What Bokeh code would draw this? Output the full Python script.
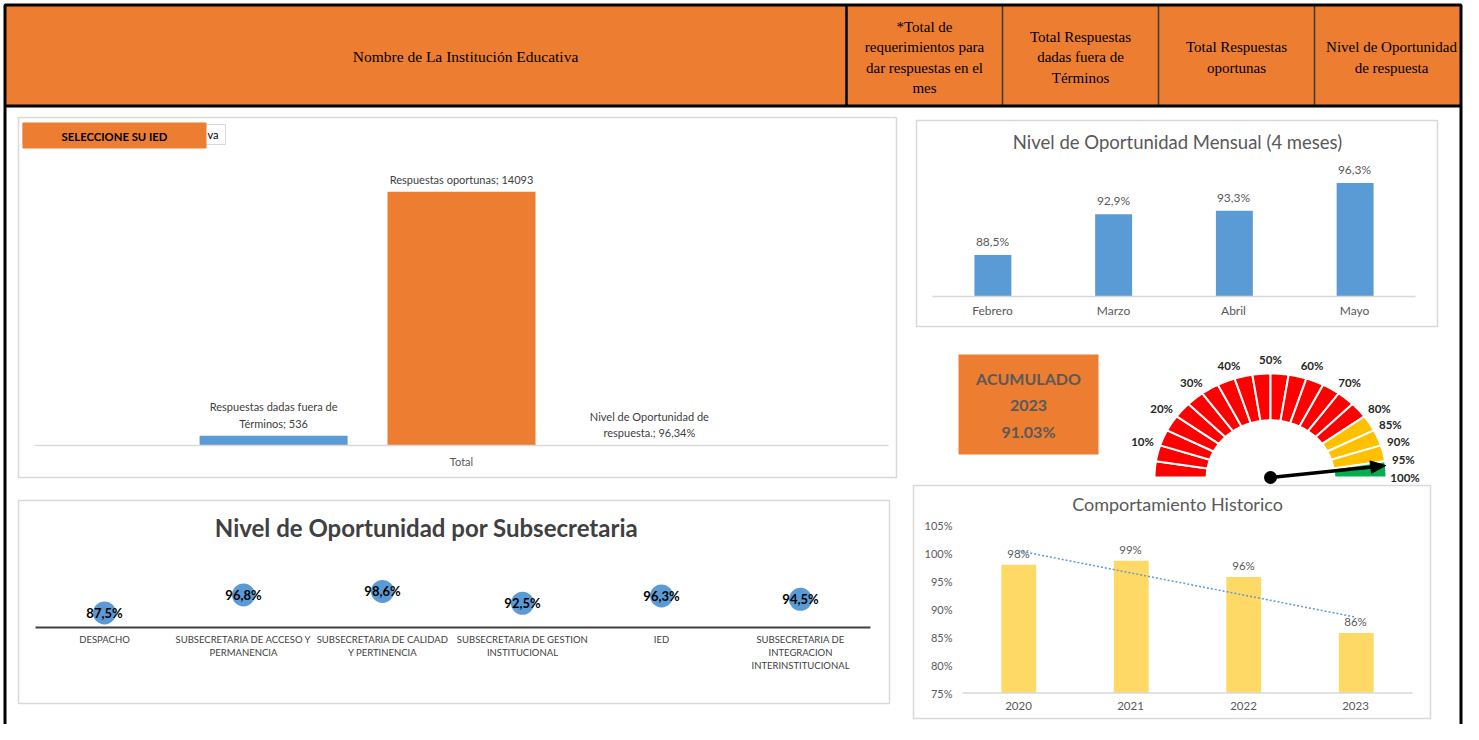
import numpy as np
from bokeh.plotting import figure
from bokeh.models import Range1d
from bokeh.core.properties import value
from bokeh.embed import file_html
from bokeh.resources import INLINE

# ---------------- data ----------------
header_title = "Nombre de La Institución Educativa"
header_cols = [
    "*Total de\nrequerimientos para\ndar respuestas en el\nmes",
    "Total Respuestas\ndadas fuera de\nTérminos",
    "Total Respuestas\noportunas",
    "Nivel de Oportunidad\nde respuesta",
]

selector_label = "SELECCIONE SU IED"
selector_text = "va"

tl_category = "Total"
tl_labels = [
    "Respuestas dadas fuera de\nTérminos; 536",
    "Respuestas oportunas; 14093",
    "Nivel de Oportunidad de\nrespuesta.; 96,34%",
]
tl_values = [536, 14093, 0.9634]

month_title = "Nivel de Oportunidad Mensual (4 meses)"
month_names = ["Febrero", "Marzo", "Abril", "Mayo"]
month_values = [0.885, 0.929, 0.933, 0.963]

sub_title = "Nivel de Oportunidad por Subsecretaria"
sub_names = [
    "DESPACHO",
    "SUBSECRETARIA DE ACCESO Y\nPERMANENCIA",
    "SUBSECRETARIA DE CALIDAD\nY PERTINENCIA",
    "SUBSECRETARIA DE GESTION\nINSTITUCIONAL",
    "IED",
    "SUBSECRETARIA DE\nINTEGRACION\nINTERINSTITUCIONAL",
]
sub_values = [0.875, 0.968, 0.986, 0.925, 0.963, 0.945]

hist_title = "Comportamiento Historico"
hist_years = ["2020", "2021", "2022", "2023"]
hist_values = [0.979, 0.986, 0.957, 0.857]
hist_ticks = [0.75, 0.80, 0.85, 0.90, 0.95, 1.00, 1.05]

acum_year = 2023
acum_value = 0.9103
needle_value = 0.9634

gauge_edges = [0, 5, 10, 15, 20, 25, 30, 35, 40, 45, 50, 55, 60, 65, 70, 75, 80, 85, 90, 95, 100]
gauge_yellow_from = 80
gauge_green_from = 95
gauge_label_values = [10, 20, 30, 40, 50, 60, 70, 80, 85, 90, 95, 100]

# ---------------- styles ----------------
ORANGE = "#ED7D31"
BLUE = "#5B9BD5"
GOLD = "#FFD966"
GRAY_TXT = "#595959"
DARK_TXT = "#404040"
PANEL = "#D9D9D9"
SANS = value("Lato")
SERIF = value("Liberation Serif")

W, H = 1463, 724
p = figure(width=W, height=H, x_range=Range1d(0, W), y_range=Range1d(H, 0),
           output_backend="svg", toolbar_location=None, min_border=0,
           x_axis_location=None, y_axis_location=None, title=None)
p.grid.visible = False
p.outline_line_color = None
p.background_fill_color = "white"
p.border_fill_color = "white"


def sub(xs, ys, xt, yt):
    return p.subplot(x_source=Range1d(*xs), y_source=Range1d(*ys),
                     x_target=Range1d(*xt), y_target=Range1d(*yt))


# ---------------- header ----------------
p.quad(left=[4], right=[1461], top=[4], bottom=[106], fill_color=ORANGE, line_color=None)
p.segment(x0=[846, 1002, 1158, 1314], y0=[4] * 4, x1=[846, 1002, 1158, 1314], y1=[106] * 4,
          line_color=["#000000", "#3a3a3a", "#3a3a3a", "#3a3a3a"], line_width=[2.5, 1.5, 1.5, 1.5])
p.segment(x0=[4], y0=[105.5], x1=[1461], y1=[105.5], line_color="black", line_width=3)
p.line(x=[4.5, 4.5, 1460.5, 1460.5], y=[H, 4.5, 4.5, H], line_color="black", line_width=3)
p.text(x=[465], y=[56], text=[header_title], text_font=SERIF, text_font_size="15.5px",
       text_align="center", text_baseline="middle", text_color="black")
p.text(x=[924, 1080, 1236, 1391], y=[57, 57, 57, 57], text=header_cols, text_font=SERIF,
       text_font_size="15px", text_align="center", text_baseline="middle", text_color="black",
       text_line_height=1.27)

# ---------------- panels ----------------
p.quad(left=[18, 916, 18, 913], right=[896, 1437, 889, 1430], top=[117, 120, 500, 485],
       bottom=[477, 326, 703, 718], fill_color=None, line_color=PANEL, line_width=1.5)

# ---------------- top-left bar chart ----------------
s1 = sub((0, 1), (0, 16000), (34, 888), (445, 157))
tl_x = np.array([0.5 - 0.22, 0.5, 0.5 + 0.22])
tl_w = 0.1733
s1.quad(left=tl_x - tl_w / 2, right=tl_x + tl_w / 2, bottom=[0, 0, 0], top=tl_values,
        fill_color=[BLUE, ORANGE, "#A5A5A5"], line_color=None)
s1.segment(x0=[0], y0=[0], x1=[1], y1=[0], line_color=PANEL, line_width=1.5)
s1.text(x=tl_x, y=tl_values, text=tl_labels, text_font=SANS, text_font_size="11px",
        text_color=DARK_TXT, text_align="center", text_baseline="bottom", y_offset=-6,
        text_line_height=1.3)
s1.text(x=[0.5], y=[0], text=[tl_category], text_font=SANS, text_font_size="11px",
        text_color=GRAY_TXT, text_align="center", text_baseline="middle", y_offset=16)

# selector
p.quad(left=[22], right=[225], top=[124], bottom=[144], fill_color="white", line_color=PANEL, line_width=1)
p.text(x=[207], y=[134], text=[selector_text], text_font=SANS, text_font_size="11px",
       text_color="black", text_align="left", text_baseline="middle")
p.quad(left=[22], right=[206], top=[122], bottom=[148], fill_color=ORANGE, line_color=None)
p.text(x=[114], y=[135.5], text=[selector_label], text_font=SANS, text_font_size="11.3px",
       text_font_style="bold", text_color="black", text_align="center", text_baseline="middle")

# ---------------- monthly chart ----------------
s2 = sub((-0.5, 3.5), (0.84, 0.98), (932, 1415), (296, 166.8))
mx = np.arange(len(month_names))
mw = 0.306
s2.quad(left=mx - mw / 2, right=mx + mw / 2, bottom=[0.84] * 4, top=month_values,
        fill_color=BLUE, line_color=None)
s2.segment(x0=[-0.5], y0=[0.84], x1=[3.5], y1=[0.84], line_color=PANEL, line_width=1.5)
s2.text(x=mx, y=month_values, text=[f"{v * 100:.1f}%".replace(".", ",") for v in month_values],
        text_font=SANS, text_font_size="12px", text_color=GRAY_TXT, text_align="center",
        text_baseline="bottom", y_offset=-6)
s2.text(x=mx, y=[0.84] * 4, text=month_names, text_font=SANS, text_font_size="12px",
        text_color=GRAY_TXT, text_align="center", text_baseline="middle", y_offset=14)
p.text(x=[1177], y=[141], text=[month_title], text_font=SANS, text_font_size="18.5px",
       text_color=GRAY_TXT, text_align="center", text_baseline="middle")

# ---------------- accumulated box + gauge ----------------
p.quad(left=[958], right=[1098], top=[354], bottom=[454], fill_color=ORANGE, line_color=None)
p.text(x=[1028], y=[404.5], text=[f"ACUMULADO\n{acum_year}\n{acum_value * 100:.2f}%"],
       text_font=SANS, text_font_size="16px", text_font_style="bold", text_color=GRAY_TXT,
       text_align="center", text_baseline="middle", text_line_height=1.4)

s5 = sub((-1, 1), (0, 1), (1154, 1386), (477, 373))
xs_list, ys_list, cols = [], [], []
for e0, e1 in zip(gauge_edges[:-1], gauge_edges[1:]):
    a = np.linspace(np.pi * (1 - e0 / 100), np.pi * (1 - e1 / 100), 12)
    xs_list.append(np.concatenate([np.cos(a), 0.55 * np.cos(a[::-1])]))
    ys_list.append(np.concatenate([np.sin(a), 0.55 * np.sin(a[::-1])]))
    cols.append("#00B050" if e0 >= gauge_green_from else ("#FFC000" if e0 >= gauge_yellow_from else "#FF0000"))
s5.patches(xs=xs_list, ys=ys_list, fill_color=cols, line_color="white", line_width=2)
la = np.pi * (1 - np.array(gauge_label_values) / 100)
s5.text(x=1.16 * np.cos(la), y=1.13 * np.sin(la), text=[f"{v}%" for v in gauge_label_values],
        text_font=SANS, text_font_size="11.5px", text_font_style="bold", text_color="#262626",
        text_align="center", text_baseline="middle")
th = np.pi * (1 - needle_value)
ux, uy = np.cos(th), np.sin(th)
s5.segment(x0=[0], y0=[0], x1=[0.88 * ux], y1=[0.88 * uy], line_color="black", line_width=3.5)
s5.patch(x=[1.0 * ux, 0.87 * ux - 0.06 * uy, 0.87 * ux + 0.06 * uy],
         y=[1.0 * uy, 0.87 * uy + 0.06 * ux, 0.87 * uy - 0.06 * ux], fill_color="black", line_color="black")
s5.scatter(x=[0], y=[0], size=13, fill_color="black", line_color=None)

# ---------------- subsecretaria chart ----------------
s3 = sub((-0.5, 5.5), (0.80, 1.00), (35, 870), (627, 588.2))
sx = np.arange(len(sub_names))
s3.segment(x0=[-0.5], y0=[0.80], x1=[5.5], y1=[0.80], line_color=DARK_TXT, line_width=2)
s3.scatter(x=sx, y=sub_values, size=23, fill_color=BLUE, line_color=None)
s3.text(x=sx, y=sub_values, text=[f"{v * 100:.1f}%".replace(".", ",") for v in sub_values],
        text_font=SANS, text_font_size="13px", text_font_style="bold", text_color="black",
        text_align="center", text_baseline="middle")
s3.text(x=sx, y=[0.80] * len(sx), text=sub_names, text_font=SANS, text_font_size="9.5px",
        text_color=DARK_TXT, text_align="center", text_baseline="top", y_offset=6,
        text_line_height=1.2)
p.text(x=[426], y=[527], text=[sub_title], text_font=SANS, text_font_size="24px",
       text_font_style="bold", text_color=DARK_TXT, text_align="center", text_baseline="middle")

# ---------------- historic chart ----------------
s4 = sub((-0.5, 3.5), (0.75, 1.05), (962, 1412), (692.5, 524.5))
hx = np.arange(len(hist_years))
hw = 0.31
s4.quad(left=hx - hw / 2, right=hx + hw / 2, bottom=[0.75] * 4, top=hist_values,
        fill_color=GOLD, line_color=None)
s4.segment(x0=[-0.5], y0=[0.75], x1=[3.5], y1=[0.75], line_color=PANEL, line_width=1.5)
s4.text(x=[-0.5] * len(hist_ticks), y=hist_ticks, text=[f"{round(t * 100)}%" for t in hist_ticks],
        text_font=SANS, text_font_size="11px", text_color=GRAY_TXT, text_align="right",
        text_baseline="middle", x_offset=-10)
s4.text(x=hx, y=[0.75] * 4, text=hist_years, text_font=SANS, text_font_size="11.5px",
        text_color=GRAY_TXT, text_align="center", text_baseline="middle", y_offset=13)
s4.text(x=hx, y=hist_values, text=[f"{round(v * 100)}%" for v in hist_values], text_font=SANS,
        text_font_size="11.5px", text_color=GRAY_TXT, text_align="center", text_baseline="bottom",
        y_offset=-5)
coef = np.polyfit(hx, hist_values, 1)
s4.line(x=hx, y=np.polyval(coef, hx), line_color=BLUE, line_width=1.5, line_dash="2 2")
p.text(x=[1177], y=[503], text=[hist_title], text_font=SANS, text_font_size="18px",
       text_color=GRAY_TXT, text_align="center", text_baseline="middle")

open("out.html", "w").write(file_html(p, INLINE))
